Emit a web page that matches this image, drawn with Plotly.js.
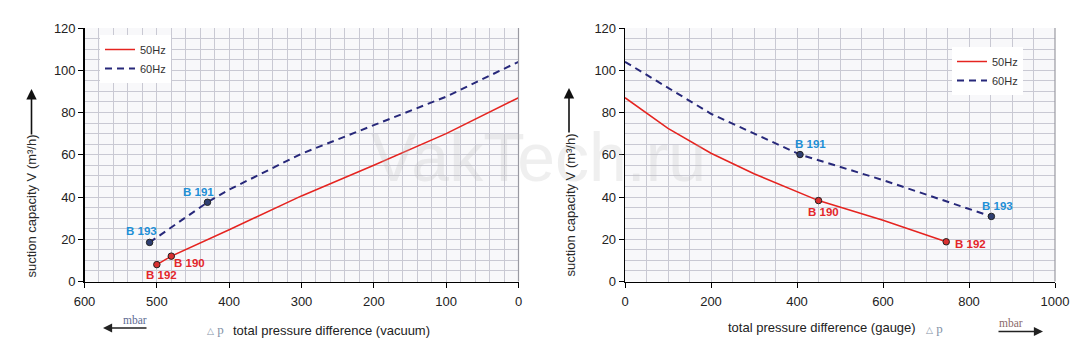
<!DOCTYPE html>
<html>
<head>
<meta charset="utf-8">
<script src="https://cdn.plot.ly/plotly-3.0.1.min.js"></script>
<style>
html,body{margin:0;padding:0;background:#fff;}
#chart{width:1086px;height:351px;}
</style>
</head>
<body>
<div id="chart"></div>
<script>
// ---- data ----
const vacP50 = [500, 480, 400, 300, 200, 100, 0];
const vacV50 = [8, 12, 24.5, 40.5, 55, 70, 87];
const vacP60 = [510, 430, 400, 300, 200, 100, 0];
const vacV60 = [18.5, 37.5, 43.5, 60.5, 74, 87.5, 104];

const gauP50 = [0, 100, 200, 300, 450, 600, 747];
const gauV50 = [87, 72.5, 60.7, 51, 38.3, 29, 18.8];
const gauP60 = [0, 100, 200, 407, 600, 852];
const gauV60 = [104, 91.7, 79.4, 60.1, 48, 30.8];

const vacModels = ['B 192', 'B 190', 'B 193', 'B 191'];
const vacModelP = [500, 480, 510, 430];
const vacModelV = [8, 12, 18.5, 37.5];
const vacModelHz = [50, 50, 60, 60];

const gauModels = ['B 190', 'B 192', 'B 191', 'B 193'];
const gauModelP = [450, 747, 407, 852];
const gauModelV = [38.3, 18.8, 60.1, 30.8];
const gauModelHz = [50, 50, 60, 60];

const seriesNames = ['50Hz', '60Hz'];
const vacTicks = [600, 500, 400, 300, 200, 100, 0];
const gauTicks = [0, 200, 400, 600, 800, 1000];
const yTicks = [0, 20, 40, 60, 80, 100, 120];

const yTitle = 'suction capacity V (m\u00b3/h)';
const vacTitle = 'total pressure difference (vacuum)';
const gauTitle = 'total pressure difference (gauge)';
const watermark = 'VakTech.ru';

// ---- styles ----
const RED = '#e52420', NAVY = '#27287a', BLUE = '#1d8fd6', LRED = '#e3262b';
const FONT = 'Arial, "Liberation Sans", sans-serif';
const SERIF = '"Liberation Serif", "DejaVu Serif", serif';
const W = 1086, H = 351;
const px = v => v / W, py = v => 1 - v / H;
const L1 = 84.5, R1 = 518.5, L2 = 625, R2 = 1055, TOP = 28, BOT = 281.5;

// label offsets (pixels) per model name
const vacShift = {'B 192': [5, -10], 'B 190': [18, -7], 'B 193': [-8, 11], 'B 191': [-9, 10]};
const gauShift = {'B 190': [5, -11], 'B 192': [24, -2], 'B 191': [10, 11], 'B 193': [6, 10]};

const dotColor = h => h === 50 ? '#d93030' : '#2f3f72';
const traces = [
  {x: vacP50, y: vacV50, xaxis: 'x', yaxis: 'y', mode: 'lines', name: seriesNames[0], legend: 'legend',
   line: {color: RED, width: 1.5}},
  {x: vacP60, y: vacV60, xaxis: 'x', yaxis: 'y', mode: 'lines', name: seriesNames[1], legend: 'legend',
   line: {color: NAVY, width: 2, dash: '7px,5px'}},
  {x: vacModelP, y: vacModelV, xaxis: 'x', yaxis: 'y', mode: 'markers', showlegend: false, hoverinfo: 'skip',
   marker: {size: 6.5, color: vacModelHz.map(dotColor), line: {color: '#222', width: 1}}},
  {x: gauP50, y: gauV50, xaxis: 'x2', yaxis: 'y2', mode: 'lines', name: seriesNames[0], legend: 'legend2',
   line: {color: RED, width: 1.5}},
  {x: gauP60, y: gauV60, xaxis: 'x2', yaxis: 'y2', mode: 'lines', name: seriesNames[1], legend: 'legend2',
   line: {color: NAVY, width: 2, dash: '7px,5px'}},
  {x: gauModelP, y: gauModelV, xaxis: 'x2', yaxis: 'y2', mode: 'markers', showlegend: false, hoverinfo: 'skip',
   marker: {size: 6.5, color: gauModelHz.map(dotColor), line: {color: '#222', width: 1}}}
];

const gridC = '#c9c9d3';
function xAxis(range, ticks, domain, anchor, minorStep) {
  return {
    domain: domain, anchor: anchor, range: range, tickvals: ticks, ticktext: ticks.map(String),
    showgrid: true, gridcolor: gridC, gridwidth: 1,
    minor: {dtick: minorStep, showgrid: true, gridcolor: gridC, gridwidth: 1, ticks: ''},
    showline: true, linecolor: '#000', linewidth: 1.3, zeroline: false,
    ticks: 'outside', ticklen: 5, tickcolor: '#000', tickwidth: 1, ticklabelstandoff: 3,
    tickfont: {family: FONT, size: 13, color: '#222'}, fixedrange: true
  };
}
function yAxis(domain, anchor) {
  return {
    domain: domain, anchor: anchor, range: [0, 120], tickvals: yTicks, ticktext: yTicks.map(String),
    showgrid: true, gridcolor: gridC, gridwidth: 1,
    minor: {dtick: 5, showgrid: true, gridcolor: gridC, gridwidth: 1, ticks: ''},
    showline: true, linecolor: '#000', linewidth: 1.3, zeroline: false,
    ticks: 'outside', ticklen: 5, tickcolor: '#000', tickwidth: 1,
    tickfont: {family: FONT, size: 13, color: '#222'}, fixedrange: true
  };
}

const annotations = [];
// watermark
annotations.push({xref: 'paper', yref: 'paper', x: px(538), y: py(157), text: watermark, showarrow: false,
  xanchor: 'center', yanchor: 'middle', font: {family: FONT, size: 68, color: 'rgba(190,190,190,0.24)'}});

function addLabels(names, xs, ys, hz, shift, xr, yr) {
  names.forEach((n, i) => {
    annotations.push({xref: xr, yref: yr, x: xs[i], y: ys[i], text: '<b>' + n + '</b>', showarrow: false,
      xshift: shift[n][0], yshift: shift[n][1],
      font: {family: FONT, size: 11.5, color: hz[i] === 50 ? LRED : BLUE}});
  });
}
addLabels(vacModels, vacModelP, vacModelV, vacModelHz, vacShift, 'x', 'y');
addLabels(gauModels, gauModelP, gauModelV, gauModelHz, gauShift, 'x2', 'y2');

// y titles with upward arrows
[[31.5, 206], [569.5, 205]].forEach(([cx, cy]) => {
  annotations.push({xref: 'paper', yref: 'paper', x: px(cx), y: py(cy), text: yTitle, textangle: -90,
    showarrow: false, xanchor: 'center', yanchor: 'middle', font: {family: FONT, size: 13, color: '#2a2a2a'}});
});
[[31.5, 89, 136], [569, 88, 134]].forEach(([cx, yHead, yTail]) => {
  annotations.push({xref: 'paper', yref: 'paper', x: px(cx), y: py(yHead), ax: 0, ay: yTail - yHead,
    text: '', showarrow: true, arrowhead: 2, arrowsize: 1.3, arrowwidth: 1.6, arrowcolor: '#111'});
});

// x titles
annotations.push({xref: 'paper', yref: 'paper', x: px(331.5), y: py(330), text: vacTitle, showarrow: false,
  xanchor: 'center', yanchor: 'middle', font: {family: FONT, size: 13, color: '#222'}});
annotations.push({xref: 'paper', yref: 'paper', x: px(822), y: py(327), text: gauTitle, showarrow: false,
  xanchor: 'center', yanchor: 'middle', font: {family: FONT, size: 13, color: '#222'}});
// delta p
const dp = '<span style="font-size:9px">\u25b3</span> p';
annotations.push({xref: 'paper', yref: 'paper', x: px(215), y: py(329), text: dp,
  showarrow: false, xanchor: 'center', yanchor: 'middle', font: {family: SERIF, size: 13, color: '#8593a8'}});
annotations.push({xref: 'paper', yref: 'paper', x: px(934.5), y: py(328), text: dp,
  showarrow: false, xanchor: 'center', yanchor: 'middle', font: {family: SERIF, size: 13, color: '#8593a8'}});
// mbar + arrows
annotations.push({xref: 'paper', yref: 'paper', x: px(135), y: py(320), text: 'mbar', showarrow: false,
  xanchor: 'center', yanchor: 'middle', font: {family: SERIF, size: 11.5, color: '#5d6c93'}});
annotations.push({xref: 'paper', yref: 'paper', x: px(103), y: py(328), ax: 45, ay: 0, text: '', showarrow: true,
  arrowhead: 2, arrowsize: 1.3, arrowwidth: 1.4, arrowcolor: '#222'});
annotations.push({xref: 'paper', yref: 'paper', x: px(1011), y: py(323), text: 'mbar', showarrow: false,
  xanchor: 'center', yanchor: 'middle', font: {family: SERIF, size: 11.5, color: '#8a6a6a'}});
annotations.push({xref: 'paper', yref: 'paper', x: px(1043), y: py(331.5), ax: -46, ay: 0, text: '', showarrow: true,
  arrowhead: 2, arrowsize: 1.3, arrowwidth: 1.4, arrowcolor: '#222'});

// right frame lines (gray)
const shapes = [
  {type: 'line', xref: 'paper', yref: 'paper', x0: px(R1), x1: px(R1), y0: py(BOT), y1: py(TOP), line: {color: '#9a9aa2', width: 1.2}},
  {type: 'line', xref: 'paper', yref: 'paper', x0: px(R2), x1: px(R2), y0: py(BOT), y1: py(TOP), line: {color: '#9a9aa2', width: 1.2}}
];

const legendStyle = {bgcolor: '#ffffff', borderwidth: 0, font: {family: FONT, size: 11, color: '#333'},
  xanchor: 'left', yanchor: 'top', tracegroupgap: 0, itemwidth: 30};

const layout = {
  width: W, height: H, margin: {l: 0, r: 0, t: 0, b: 0},
  paper_bgcolor: '#ffffff', plot_bgcolor: '#f8f8fa',
  xaxis: xAxis([600, 0], vacTicks, [px(L1), px(R1)], 'y', 20),
  yaxis: yAxis([py(BOT), py(TOP)], 'x'),
  xaxis2: xAxis([0, 1000], gauTicks, [px(L2), px(R2)], 'y2', 50),
  yaxis2: yAxis([py(BOT), py(TOP)], 'x2'),
  legend: Object.assign({x: px(100), y: py(35)}, legendStyle),
  legend2: Object.assign({x: px(952), y: py(47)}, legendStyle),
  annotations: annotations, shapes: shapes, showlegend: true
};

Plotly.newPlot('chart', traces, layout, {displayModeBar: false, staticPlot: true});
</script>
</body>
</html>
